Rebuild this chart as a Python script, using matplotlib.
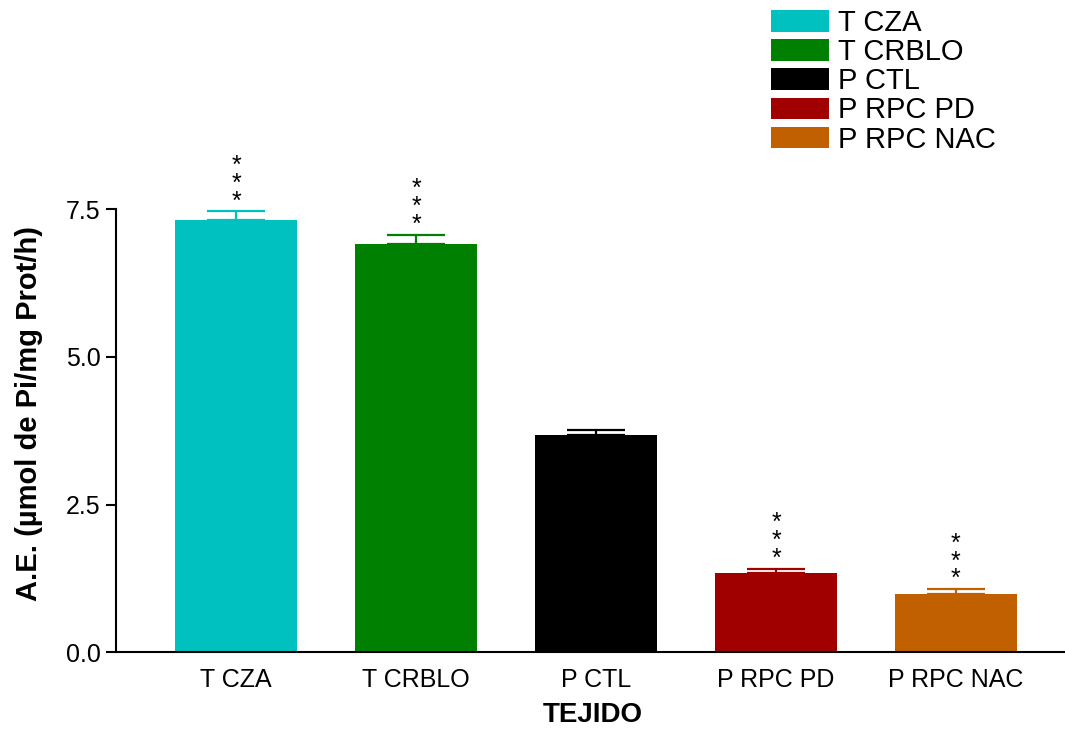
import numpy as np
import matplotlib.pyplot as plt
from matplotlib.patches import Patch

plt.rcParams['font.family'] = ['Liberation Sans', 'DejaVu Sans']

# Actividad enzimática por tejido
tejidos = ['T CZA', 'T CRBLO', 'P CTL', 'P RPC PD', 'P RPC NAC']
media = [7.32, 6.91, 3.67, 1.34, 0.99]
error = [0.14, 0.15, 0.10, 0.07, 0.08]
significancia = ['***', '***', '', '***', '***']
colores = ['#00c0c0', '#008000', '#000000', '#a00000', '#c06000']

fig = plt.figure(figsize=(10.65, 7.36), dpi=100)
ax = fig.add_axes([0.109, 0.1135, 0.891, 0.6025])

x = np.arange(len(tejidos))
ax.bar(x, media, width=0.678, color=colores, zorder=2)

# barras de error solo hacia arriba, del color de cada barra
for xi, m, e, c in zip(x, media, error, colores):
    ax.errorbar(xi, m, yerr=[[0], [e]], fmt='none', ecolor=c, elinewidth=1.6,
                capsize=21, capthick=1.6, clip_on=False, zorder=3)

# asteriscos de significancia, apilados en vertical
for xi, m, e, s in zip(x, media, error, significancia):
    if s:
        ax.annotate('\n'.join(s), xy=(xi, m + e), xytext=(0, -1.5),
                    textcoords='offset points', ha='center', va='bottom',
                    fontsize=18, linespacing=0.68, annotation_clip=False)

ax.set_xlim(-0.667, 4.606)
ax.set_ylim(0, 7.5)
ax.set_yticks([0, 2.5, 5.0, 7.5])
ax.set_yticklabels(['0.0', '2.5', '5.0', '7.5'])
ax.set_xticks(x)
ax.set_xticklabels(tejidos)
ax.tick_params(axis='y', length=7, width=1.5, labelsize=18, pad=4)
ax.tick_params(axis='x', length=0, labelsize=18, pad=11)

for lado in ['top', 'right']:
    ax.spines[lado].set_visible(False)
for lado in ['left', 'bottom']:
    ax.spines[lado].set_linewidth(1.5)

ax.set_ylabel('A.E. (µmol de Pi/mg Prot/h)', fontsize=21, fontweight='bold')
ax.yaxis.set_label_coords(-0.077, 0.538)
ax.set_xlabel('TEJIDO', fontsize=20, fontweight='bold', va='top')
ax.xaxis.set_label_coords(0.502, -0.112)

handles = [Patch(facecolor=c, edgecolor='none') for c in colores]
fig.legend(handles, tejidos, loc='upper left', bbox_to_anchor=(771 / 1065, 1 - 9 / 736),
           frameon=False, fontsize=21, handlelength=1.99, handleheight=0.75,
           handletextpad=0.31, labelspacing=0.04, borderpad=0, borderaxespad=0)

fig.savefig('out.png', dpi=100)
